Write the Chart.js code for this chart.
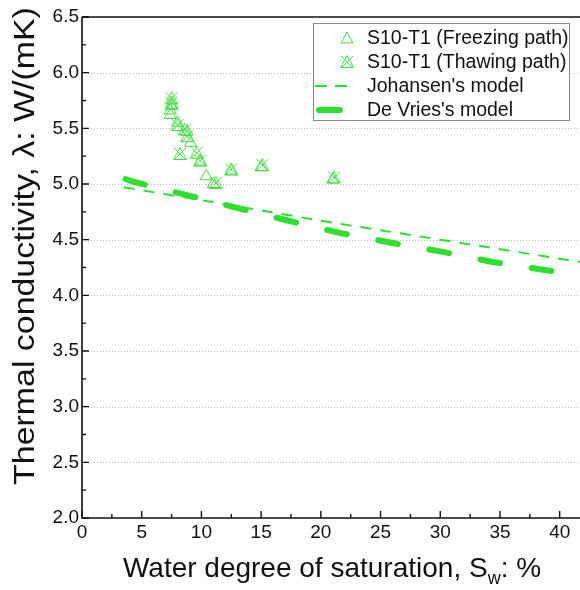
<!DOCTYPE html>
<html><head><meta charset="utf-8">
<script src="https://cdn.jsdelivr.net/npm/chart.js@4/dist/chart.umd.min.js"></script>
<style>html,body{margin:0;padding:0;background:#fff;overflow:hidden}</style>
</head><body>
<canvas id="c" width="580" height="590"></canvas>
<script>
// ---- data ----
const xTickValues = [0,5,10,15,20,25,30,35,40];
const yTickLabels = ['2.0','2.5','3.0','3.5','4.0','4.5','5.0','5.5','6.0','6.5'];
const seriesNames = ['S10-T1 (Freezing path)','S10-T1 (Thawing path)',"Johansen's model","De Vries's model"];
const freezeX = [7.4,7.4,7.5,8.0,8.8,9.1,9.9,10.4,11.0,12.5,15.0,21.0];
const freezeY = [5.62,5.66,5.70,5.55,5.47,5.37,5.20,5.07,5.00,5.12,5.15,5.04];
const thawX = [7.5,7.5,8.0,8.6,8.8,8.2,9.6,9.9,11.2,12.5,15.1,21.1];
const thawY = [5.77,5.73,5.53,5.49,5.43,5.27,5.28,5.21,5.01,5.13,5.17,5.06];
const johansenX = [3.5,10,20,30,41.7];
const johansenY = [4.97,4.855,4.67,4.50,4.30];
const devriesX = [3.65,4.3,8.8,13.2,17.3,21.6,26.0,30.2,34.4,39.8];
const devriesY = [5.045,5.02,4.90,4.78,4.67,4.56,4.47,4.39,4.30,4.21];

const pts = (xs, ys) => xs.map((x, i) => ({x, y: ys[i]}));
const GREEN = '#2ee02e';
const MARK = '#44dd44';
const FONT = '"Liberation Sans", Arial, sans-serif';

// crossed triangle marker
function crossedTri() {
  const c = document.createElement('canvas');
  c.width = 16; c.height = 16;
  const g = c.getContext('2d');
  g.strokeStyle = MARK; g.lineWidth = 1;
  g.beginPath(); g.moveTo(8, 1.5); g.lineTo(14.5, 13.5); g.lineTo(1.5, 13.5); g.closePath(); g.stroke();
  g.beginPath(); g.moveTo(2, 2); g.lineTo(14, 14); g.moveTo(14, 2); g.lineTo(2, 14); g.stroke();
  return c;
}
const crossImg = crossedTri();

const datasets = [
  {label: seriesNames[0], data: pts(freezeX, freezeY), showLine: false, pointStyle: 'triangle',
   pointRadius: 7, pointBorderColor: MARK, pointBackgroundColor: 'rgba(0,0,0,0)', pointBorderWidth: 1, borderColor: MARK},
  {label: seriesNames[1], data: pts(thawX, thawY), showLine: false, pointStyle: crossImg,
   pointRadius: 7, borderColor: MARK},
  {label: seriesNames[2], data: pts(johansenX, johansenY), showLine: true, pointRadius: 0,
   borderColor: GREEN, borderWidth: 2, borderDash: [11, 9], fill: false},
  {label: seriesNames[3], data: pts(devriesX, devriesY), showLine: true, pointRadius: 0,
   borderColor: GREEN, borderWidth: 6, borderDash: [20, 32], borderCapStyle: 'round', fill: false}
];

const decor = {
  id: 'decor',
  beforeDatasetsDraw(chart) {
    const {ctx, chartArea: a, scales: {x, y}} = chart;
    ctx.save();
    ctx.strokeStyle = '#b8b8b8'; ctx.lineWidth = 1; ctx.setLineDash([1, 2]);
    y.ticks.forEach(t => {
      if (t.value <= 2 || t.value >= 6.5) return;
      const py = Math.round(y.getPixelForValue(t.value)) + 0.5;
      ctx.beginPath(); ctx.moveTo(a.left, py); ctx.lineTo(a.right, py); ctx.stroke();
    });
    ctx.restore();
  },
  afterDatasetsDraw(chart) {
    const {ctx, chartArea: a, scales: {x, y}} = chart;
    ctx.save();
    ctx.strokeStyle = '#111'; ctx.lineWidth = 1.6;
    ctx.beginPath();
    ctx.moveTo(a.left, a.top); ctx.lineTo(a.right, a.top);
    ctx.moveTo(a.left, a.top); ctx.lineTo(a.left, a.bottom);
    ctx.lineTo(a.right, a.bottom);
    ctx.stroke();
    ctx.lineWidth = 1.4;
    ctx.beginPath();
    for (let v = 0; v <= 41.7; v += 2.5) {
      const px = x.getPixelForValue(v);
      const len = (Math.round(v * 2) % 10 === 0) ? 7 : 4;
      ctx.moveTo(px, a.bottom); ctx.lineTo(px, a.bottom - len);
    }
    for (let v = 2; v <= 6.5001; v += 0.25) {
      const py = y.getPixelForValue(v);
      const len = (Math.round(v * 4) % 2 === 0) ? 7 : 4;
      ctx.moveTo(a.left, py); ctx.lineTo(a.left + len, py);
    }
    ctx.stroke();
    ctx.restore();
  },
  afterDraw(chart) {
    const {ctx} = chart;
    ctx.save();
    ctx.fillStyle = '#111';
    // y title
    ctx.save();
    ctx.translate(26, 246);
    ctx.rotate(-Math.PI / 2);
    ctx.scale(1.13, 1);
    ctx.font = '30px ' + FONT;
    ctx.textAlign = 'center'; ctx.textBaseline = 'middle';
    ctx.fillText('Thermal conductivity, \u03bb: W/(mK)', 0, 0);
    ctx.restore();
    // x title with subscript
    const big = '28px ' + FONT, small = '18px ' + FONT;
    const p1 = 'Water degree of saturation, S', p2 = 'w', p3 = ': %';
    ctx.font = big; const w1 = ctx.measureText(p1).width, w3 = ctx.measureText(p3).width;
    ctx.font = small; const w2 = ctx.measureText(p2).width;
    let sx = 332 - (w1 + w2 + w3) / 2;
    const by = 577;
    ctx.textAlign = 'left'; ctx.textBaseline = 'alphabetic';
    ctx.font = big; ctx.fillText(p1, sx, by); sx += w1;
    ctx.font = small; ctx.fillText(p2, sx, by + 7); sx += w2;
    ctx.font = big; ctx.fillText(p3, sx, by);
    // legend
    ctx.fillStyle = '#fff';
    ctx.fillRect(313, 23, 257, 98);
    ctx.strokeStyle = '#8a8a8a'; ctx.lineWidth = 1;
    ctx.strokeRect(313.5, 23.5, 256, 97);
    const rows = [38, 62, 86, 110];
    chart.data.datasets.forEach((ds, i) => {
      const ry = rows[i];
      if (!ds.showLine) {
        if (ds.pointStyle === 'triangle') {
          ctx.strokeStyle = MARK; ctx.lineWidth = 1; ctx.setLineDash([]);
          ctx.beginPath(); ctx.moveTo(347, ry - 6); ctx.lineTo(353, ry + 5); ctx.lineTo(341, ry + 5); ctx.closePath(); ctx.stroke();
        } else {
          ctx.drawImage(ds.pointStyle, 347 - 8, ry - 8);
        }
      } else {
        ctx.strokeStyle = ds.borderColor; ctx.lineWidth = ds.borderWidth;
        ctx.lineCap = ds.borderCapStyle || 'butt';
        if (ds.borderWidth > 3) {
          ctx.setLineDash([]);
          ctx.beginPath(); ctx.moveTo(319, ry); ctx.lineTo(340, ry); ctx.stroke();
        } else {
          ctx.setLineDash([12, 8]);
          ctx.beginPath(); ctx.moveTo(315, ry); ctx.lineTo(347, ry); ctx.stroke();
        }
        ctx.setLineDash([]); ctx.lineCap = 'butt';
      }
      ctx.fillStyle = '#111';
      ctx.font = '19.5px ' + FONT;
      ctx.textAlign = 'left'; ctx.textBaseline = 'middle';
      ctx.fillText(ds.label, 367, ry + 1);
    });
    ctx.restore();
  }
};

new Chart(document.getElementById('c'), {
  type: 'scatter',
  data: {datasets},
  options: {
    responsive: false, animation: false, devicePixelRatio: 1,
    layout: {autoPadding: false, padding: {top: 17, left: 0, right: 0, bottom: 0}},
    plugins: {legend: {display: false}, tooltip: {enabled: false}},
    scales: {
      x: {
        type: 'linear', min: 0, max: 41.7,
        afterFit(s) { s.height = 72; s.paddingLeft = 0; s.paddingRight = 0; },
        grid: {display: false, drawTicks: false, tickLength: 0}, border: {display: false},
        ticks: {stepSize: 5, includeBounds: false, autoSkip: false, maxRotation: 0, padding: 3,
          color: '#111', font: {family: FONT, size: 19},
          callback: (v) => xTickValues.includes(v) ? String(v) : ''}
      },
      y: {
        type: 'linear', min: 2, max: 6.5,
        afterFit(s) { s.width = 82; s.paddingTop = 0; s.paddingBottom = 0; },
        grid: {display: false, drawTicks: false, tickLength: 0}, border: {display: false},
        ticks: {stepSize: 0.5, includeBounds: false, autoSkip: false, padding: 3,
          color: '#111', font: {family: FONT, size: 19},
          callback: (v, i) => yTickLabels[i]}
      }
    }
  },
  plugins: [decor]
});
</script>
</body></html>
